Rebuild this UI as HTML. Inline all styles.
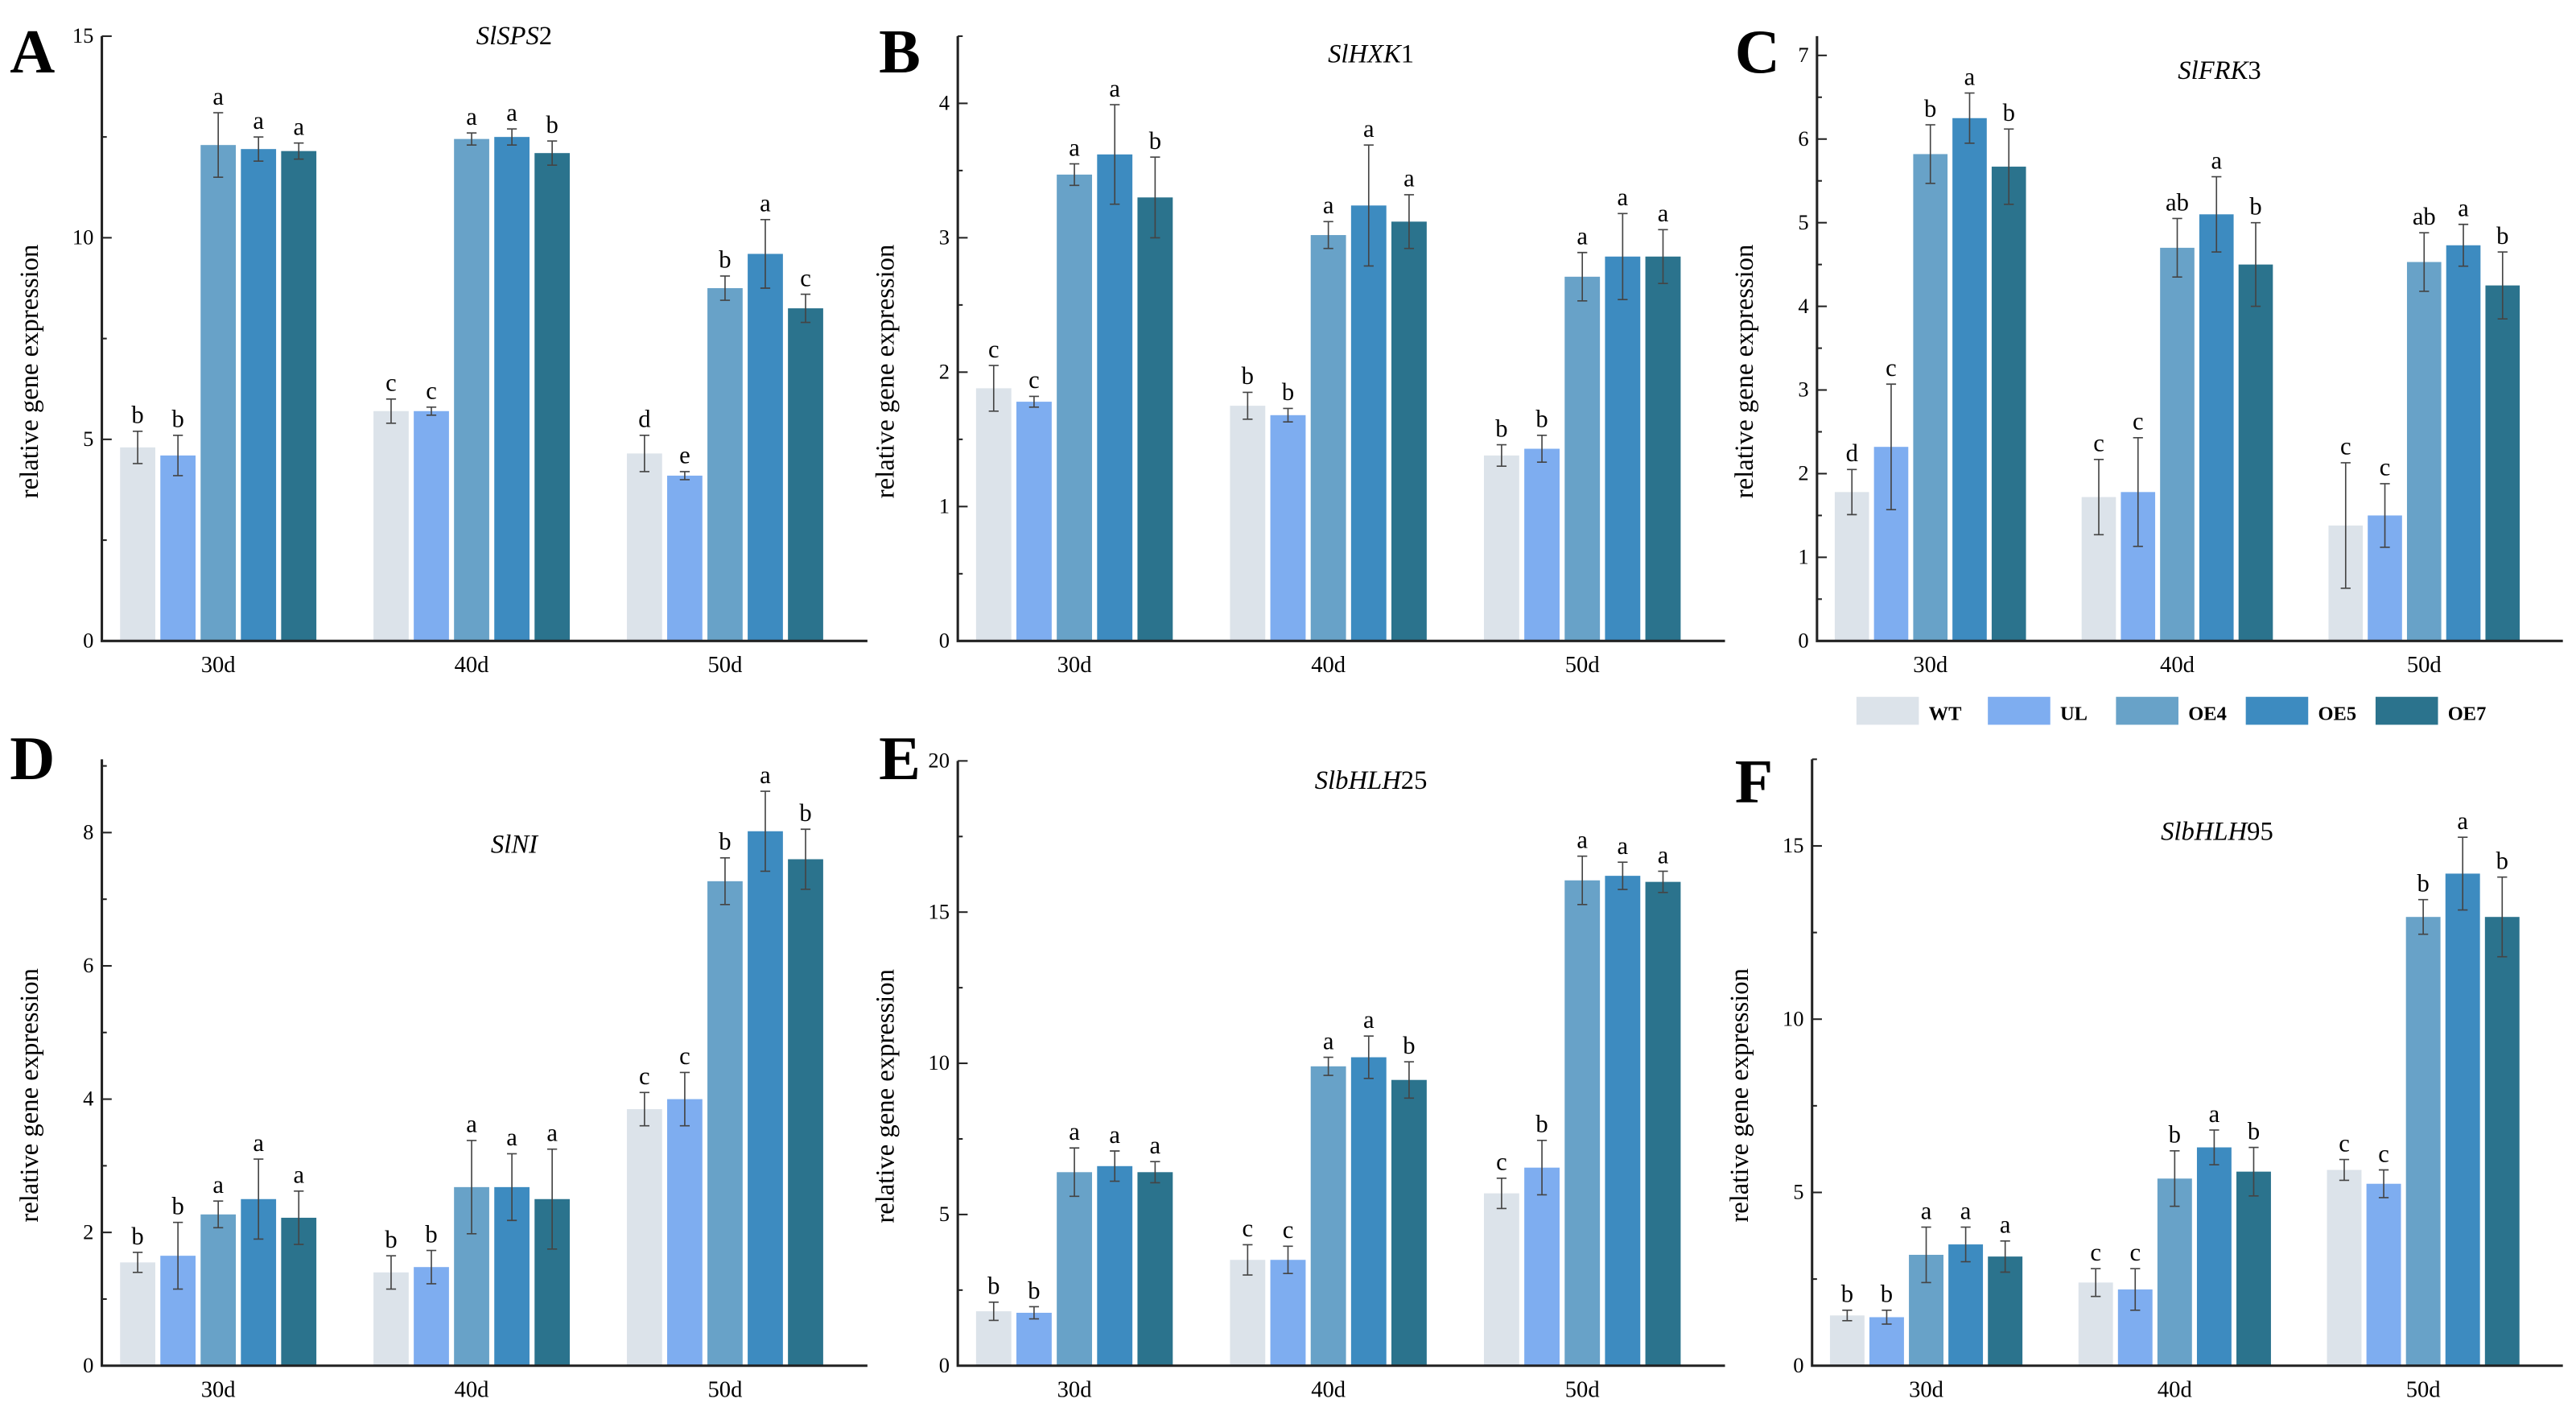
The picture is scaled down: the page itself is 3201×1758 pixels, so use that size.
<!DOCTYPE html>
<html><head><meta charset="utf-8"><style>
html,body{margin:0;padding:0;background:#fff;}
svg{display:block;font-family:"Liberation Serif",serif;}
</style></head><body>
<svg id="fig" width="3201" height="1758" viewBox="0 0 1568 861" preserveAspectRatio="none" xmlns="http://www.w3.org/2000/svg">
<rect width="1568" height="861" fill="#fff"/>
</svg>
<script>
const categories = ["30d","40d","50d"];
const seriesNames = ["WT","UL","OE4","OE5","OE7"];
const colors = ["#dce3ea","#7eadf0","#68a2c8","#3d8bc0","#2b738d"];
const panelIds = ["A","B","C","D","E","F"];
const titles = [["Sl","SPS","2"],["Sl","HXK","1"],["Sl","FRK","3"],["Sl","NI",""],["Sl","bHLH","25"],["Sl","bHLH","95"]];
const valsA = [[4.8,4.6,12.3,12.2,12.15],[5.7,5.7,12.45,12.5,12.1],[4.65,4.1,8.75,9.6,8.25]];
const errA = [[.4,.5,.8,.3,.2],[.3,.1,.15,.2,.3],[.45,.1,.3,.85,.35]];
const letA = [["b","b","a","a","a"],["c","c","a","a","b"],["d","e","b","a","c"]];
const valsB = [[1.88,1.78,3.47,3.62,3.3],[1.75,1.68,3.02,3.24,3.12],[1.38,1.43,2.71,2.86,2.86]];
const errB = [[.17,.04,.08,.37,.3],[.1,.05,.1,.45,.2],[.08,.1,.18,.32,.2]];
const letB = [["c","c","a","a","b"],["b","b","a","a","a"],["b","b","a","a","a"]];
const valsC = [[1.78,2.32,5.82,6.25,5.67],[1.72,1.78,4.7,5.1,4.5],[1.38,1.5,4.53,4.73,4.25]];
const errC = [[.27,.75,.35,.3,.45],[.45,.65,.35,.45,.5],[.75,.38,.35,.25,.4]];
const letC = [["d","c","b","a","b"],["c","c","ab","a","b"],["c","c","ab","a","b"]];
const valsD = [[1.55,1.65,2.27,2.5,2.22],[1.4,1.48,2.68,2.68,2.5],[3.85,4.0,7.27,8.02,7.6]];
const errD = [[.15,.5,.2,.6,.4],[.25,.25,.7,.5,.75],[.25,.4,.35,.6,.45]];
const letD = [["b","b","a","a","a"],["b","b","a","a","a"],["c","c","b","a","b"]];
const valsE = [[1.8,1.75,6.4,6.6,6.4],[3.5,3.5,9.9,10.2,9.45],[5.7,6.55,16.05,16.2,16.0]];
const errE = [[.3,.2,.8,.5,.35],[.5,.45,.3,.7,.6],[.5,.9,.8,.45,.35]];
const letE = [["b","b","a","a","a"],["c","c","a","a","b"],["c","b","a","a","a"]];
const valsF = [[1.45,1.4,3.2,3.5,3.15],[2.4,2.2,5.4,6.3,5.6],[5.65,5.25,12.95,14.2,12.95]];
const errF = [[.15,.2,.8,.5,.45],[.4,.6,.8,.5,.7],[.3,.4,.5,1.05,1.15]];
const letF = [["b","b","a","a","a"],["c","c","b","a","b"],["c","c","b","a","b"]];
const yMax = [15,4.5,7.23,9.1,20,17.5];
const yStep = [5,1,1,2,5,5];

const allVals=[valsA,valsB,valsC,valsD,valsE,valsF];
const allErr=[errA,errB,errC,errD,errE,errF];
const allLet=[letA,letB,letC,letD,letE,letF];
const layout=[
 {x0:62,x1:528,y0:390,yt:22,ty:27,lx:6,ly:44},
 {x0:583,x1:1050,y0:390,yt:22,ty:38,lx:535,ly:44},
 {x0:1106,x1:1560,y0:390,yt:22,ty:48,lx:1056,ly:44},
 {x0:62,x1:528,y0:831,yt:462,ty:519,lx:6,ly:474},
 {x0:583,x1:1050,y0:831,yt:463,ty:480,lx:535,ly:474},
 {x0:1103,x1:1560,y0:831,yt:462,ty:511,lx:1056,ly:488}
];
const svg=document.getElementById('fig');
const NS="http://www.w3.org/2000/svg";
function mk(tag,attrs,parent){const e=document.createElementNS(NS,tag);for(const k in attrs)e.setAttribute(k,attrs[k]);(parent||svg).appendChild(e);return e;}
function fmt(v){return Math.round(v*100)/100+"";}

panelIds.forEach((pid,p)=>{
  const L=layout[p];
  const g=mk('g',{});
  
  
  const w=L.x1-L.x0;
  const yScale=v=>L.y0-(v/yMax[p])*(L.y0-L.yt);
  const xCenter=i=>L.x0+w*(0.152+0.331*i);
  const pitch=w*0.0526, bw=w*0.046;
  const lt=mk('text',{x:L.lx,y:L.ly,'font-size':38,'font-weight':'bold'},g);
  lt.textContent=pid;
  
  
  const t=titles[p];
  const tt=mk('text',{x:(L.x0+L.x1)/2+18,y:L.ty,'font-size':16,'text-anchor':'middle'},g);
  
  
  const s1=mk('tspan',{'font-style':'italic'},tt);s1.textContent=t[0]+t[1];
  const s2=mk('tspan',{},tt);s2.textContent=t[2];
  for(let c=0;c<3;c++){
    for(let s=0;s<5;s++){
      const v=allVals[p][c][s], e=allErr[p][c][s];
      const cx=xCenter(c)+(s-2)*pitch;
      const r=mk('rect',{x:cx-bw/2,y:yScale(v),width:bw,height:L.y0-yScale(v),fill:colors[s]},g);
      
      
      const yt=yScale(v+e), yb=yScale(v-e);
      const eb=mk('path',{d:`M${cx},${yt}V${yb}M${cx-3},${yt}H${cx+3}M${cx-3},${yb}H${cx+3}`,stroke:'#444','stroke-width':0.8,fill:'none'},g);
      
      
      const lb=mk('text',{x:cx,y:yt-5,'font-size':15,'text-anchor':'middle'},g);
      lb.textContent=allLet[p][c][s];
      
      
    }
    const xl=mk('text',{x:xCenter(c),y:L.y0+19,'font-size':14,'text-anchor':'middle'},g);
    xl.textContent=categories[c];
    
    
  }
  const ax=mk('path',{d:`M${L.x0},${L.yt}V${L.y0}H${L.x1}`,stroke:'#222','stroke-width':1.5,fill:'none'},g);
  
  
  for(let v=0;v<=yMax[p]+1e-6;v+=yStep[p]/2){
    const y=yScale(v);
    const major=Math.abs(v/yStep[p]-Math.round(v/yStep[p]))<1e-6;
    mk('line',{x1:L.x0,x2:L.x0+(major?6:3),y1:y,y2:y,stroke:'#222','stroke-width':1},g);
    if(major){
      const tl=mk('text',{x:L.x0-5,y:y+4,'font-size':13,'text-anchor':'end'},g);
      tl.textContent=fmt(v);
      
      
    }
  }
  const yl=mk('text',{x:0,y:0,'font-size':16,'text-anchor':'middle',transform:`translate(${L.x0-39},${(L.y0+L.yt)/2+20}) rotate(-90)`},g);
  yl.textContent='relative gene expression';
  
  
});
const legX=[1130,1210,1288,1367,1446];
const lg=mk('g',{});


seriesNames.forEach((n,i)=>{
  const eg=mk('g',{},lg);
  
  
  mk('rect',{x:legX[i],y:424,width:38,height:17,fill:colors[i]},eg);
  const tx=mk('text',{x:legX[i]+44,y:438,'font-size':12,'font-weight':'bold'},eg);
  tx.textContent=n;
});
</script>
</body></html>
